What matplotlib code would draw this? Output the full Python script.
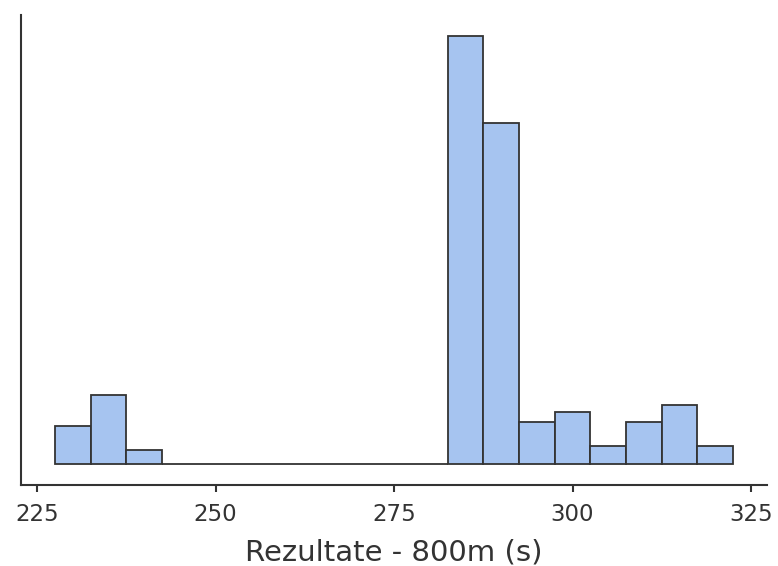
import matplotlib

matplotlib.use("Agg")
import matplotlib.pyplot as plt
import numpy as np

# histogram bins (width 5 s) and counts
bin_edges = np.arange(227.5, 323.0, 5.0)
counts = [11, 20, 4, 0, 0, 0, 0, 0, 0, 0, 0, 124, 99, 12, 15, 5, 12, 17, 5]
xticks = [225, 250, 275, 300, 325]
xlabel = "Rezultate - 800m (s)"

plt.rcParams["font.family"] = ["DejaVu Sans"]

fig = plt.figure(figsize=(7.78, 5.66), dpi=100)
ax = fig.add_axes([0.027, 0.143, 0.959, 0.8305])

ax.bar(bin_edges[:-1], counts, width=np.diff(bin_edges), align="edge",
       color="#a6c4f0", edgecolor="#333333", linewidth=1.3)

ax.set_xlim(222.75, 327.25)
ax.set_ylim(-6.2, 130.2)
ax.set_xticks(xticks)
ax.set_yticks([])
ax.tick_params(axis="x", length=5, width=1.5, color="#333333",
               labelsize=16.5, labelcolor="#333333", pad=8)
ax.set_xlabel(xlabel, fontsize=21, color="#333333", labelpad=9)

for side in ("top", "right"):
    ax.spines[side].set_visible(False)
for side in ("left", "bottom"):
    ax.spines[side].set_color("#333333")
    ax.spines[side].set_linewidth(1.5)

fig.savefig("out.png", dpi=100)
